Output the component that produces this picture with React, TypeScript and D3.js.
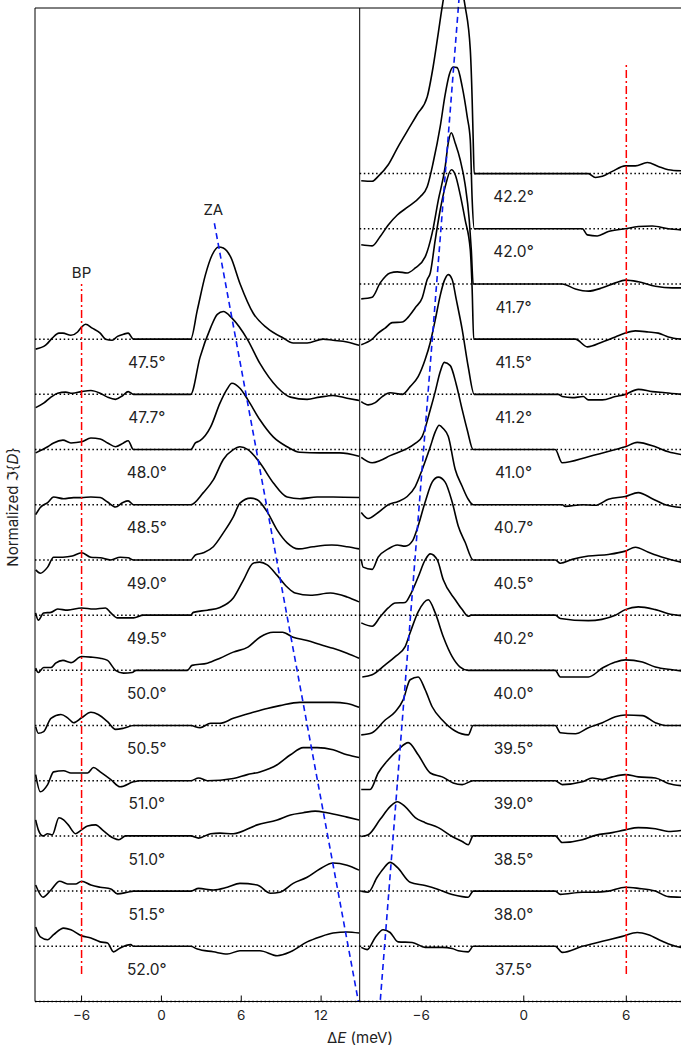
import React from "react";
import * as d3 from "d3";

type Pt = [number, number];

// angle labels, top to bottom
const leftAngles = ["47.5°", "47.7°", "48.0°", "48.5°", "49.0°", "49.5°", "50.0°", "50.5°", "51.0°", "51.0°", "51.5°", "52.0°"];
const rightAngles = ["42.2°", "42.0°", "41.7°", "41.5°", "41.2°", "41.0°", "40.7°", "40.5°", "40.2°", "40.0°", "39.5°", "39.0°", "38.5°", "38.0°", "37.5°"];

// left panel spectra: [dE (meV), normalized value]
const l475: Pt[] = [[-9.45,-0.18],[-8.7,-0.11],[-8.2,0.02],[-7.7,0.11],[-7.4,0.11],[-6.8,0.07],[-6.3,0.13],[-6.0,0.22],[-5.7,0.27],[-5.2,0.2],[-4.6,0.11],[-4.2,0],[-3.7,-0.02],[-3.3,0.05],[-2.85,0.09],[-2.5,0.11],[-2.1,0],[2.2,0],[2.7,0.53],[3.3,1.16],[3.8,1.52],[4.3,1.67],[4.65,1.65],[5.2,1.49],[5.9,1.01],[6.9,0.47],[7.95,0.2],[9.15,0.02],[9.9,-0.07],[10.95,-0.07],[12.15,0],[12.9,-0.02],[13.95,-0.05],[14.85,-0.11]];
const l477: Pt[] = [[-9.45,-0.24],[-8.85,-0.16],[-8.3,-0.05],[-7.8,0.02],[-7.2,0.04],[-6.7,0.02],[-6.0,0.05],[-5.3,0.07],[-4.6,0.02],[-4.05,-0.05],[-3.45,-0.09],[-2.9,-0.02],[-2.5,0.05],[-2.1,0],[2.2,0],[2.9,0.67],[3.7,1.21],[4.2,1.45],[4.65,1.5],[5.3,1.38],[6.45,1.0],[7.4,0.56],[8.7,0.13],[9.7,-0.05],[10.95,-0.09],[11.9,-0.05],[12.9,-0.02],[13.95,-0.07],[14.85,-0.11]];
const l480: Pt[] = [[-9.45,-0.06],[-8.55,0.05],[-8.1,0.12],[-7.4,0.17],[-6.8,0.12],[-6.0,0.14],[-5.3,0.21],[-4.6,0.19],[-4.05,0.12],[-3.45,0.05],[-2.85,0.12],[-2.5,0.16],[-2.1,0],[2.2,0],[2.55,0.12],[2.9,0.16],[3.7,0.41],[4.4,0.84],[4.9,1.08],[5.3,1.2],[5.9,1.11],[6.5,0.9],[7.4,0.54],[8.4,0.23],[9.45,0.05],[10.4,-0.05],[11.9,-0.06],[13.4,-0.06],[14.85,-0.12]];
const l485: Pt[] = [[-9.45,-0.18],[-9.1,-0.05],[-8.55,0.04],[-8.1,0.14],[-7.35,0.11],[-6.6,0.13],[-6.0,0.13],[-5.3,0.14],[-4.6,0.13],[-4.05,0.05],[-3.45,-0.04],[-2.9,0.04],[-2.5,0.07],[-2.1,0],[2.2,0],[3.15,0.22],[3.9,0.45],[4.65,0.82],[5.4,1.0],[5.9,1.05],[6.5,1.0],[7.4,0.76],[8.4,0.4],[9.45,0.14],[10.4,0.11],[11.7,0.14],[12.9,0.14],[14.85,0.13]];
const l490: Pt[] = [[-9.45,-0.18],[-9.1,-0.24],[-8.55,-0.13],[-8.1,0.05],[-7.4,0.05],[-6.7,0.07],[-6.0,0.13],[-5.3,0.05],[-4.6,0.04],[-3.8,0],[-3.1,0.05],[-2.5,0.04],[-2.1,0],[2.2,0],[2.55,0.09],[3.15,0.13],[3.9,0.24],[4.65,0.49],[5.4,0.78],[5.9,1.03],[6.7,1.12],[7.2,1.09],[7.95,0.87],[8.7,0.54],[9.45,0.31],[10.3,0.2],[11.4,0.24],[12.8,0.27],[13.95,0.24],[14.85,0.2]];
const l495: Pt[] = [[-9.45,0.04],[-9.25,-0.09],[-8.85,0.04],[-8.3,0.05],[-7.8,0.11],[-7.05,0.09],[-6.0,0.13],[-5.1,0.11],[-4.2,0.13],[-3.8,0.04],[-3.3,-0.05],[-2.1,-0.05],[-1.35,0],[2.2,0],[2.4,0.05],[3.45,0.09],[4.4,0.14],[5.4,0.31],[6.15,0.63],[6.9,0.94],[7.4,0.96],[7.95,0.91],[8.7,0.72],[9.45,0.51],[10.05,0.4],[11.2,0.36],[12.7,0.4],[13.95,0.33],[14.85,0.24]];
const l500: Pt[] = [[-9.45,0.04],[-9.25,-0.04],[-8.85,0.05],[-8.3,0.05],[-7.95,0.13],[-7.4,0.18],[-6.8,0.14],[-6.0,0.25],[-5.3,0.24],[-4.6,0.22],[-4.05,0.18],[-3.45,0],[-2.85,-0.05],[-2.2,-0.04],[-1.9,0],[1.95,0],[2.3,0.09],[3.45,0.13],[4.4,0.22],[5.4,0.33],[6.5,0.42],[7.4,0.6],[8.4,0.69],[9.1,0.69],[9.9,0.6],[10.95,0.54],[12.15,0.45],[12.9,0.4],[13.95,0.31],[14.85,0.22]];
const l505: Pt[] = [[-9.45,-0.02],[-9.25,-0.14],[-8.85,-0.11],[-8.3,0.13],[-7.55,0.2],[-7.05,0.14],[-6.6,0.05],[-6.0,0.14],[-5.3,0.24],[-4.75,0.2],[-4.05,0.07],[-3.45,-0.07],[-2.85,-0.05],[-2.1,0],[2.2,0],[2.9,-0.04],[3.7,0.04],[4.4,0.04],[5.4,0.13],[6.9,0.24],[7.95,0.31],[8.9,0.36],[10.4,0.42],[11.7,0.42],[12.9,0.42],[13.95,0.4],[14.85,0.33]];
const l510a: Pt[] = [[-9.45,0.11],[-9.1,-0.2],[-8.55,-0.07],[-8.1,0.16],[-7.35,0.18],[-6.8,0.14],[-6.0,0.14],[-5.55,0.14],[-5.1,0.24],[-4.6,0.16],[-3.8,0.02],[-3.1,-0.11],[-2.1,-0.02],[-1.6,0],[2.2,0],[2.8,0.05],[3.45,0],[5.4,0.04],[6.45,0.11],[7.4,0.16],[8.7,0.29],[9.7,0.47],[10.65,0.6],[11.7,0.6],[12.9,0.56],[13.95,0.47],[14.85,0.42]];
const l510b: Pt[] = [[-9.45,0.29],[-9.25,0.11],[-8.9,0],[-8.55,0.04],[-8.2,0.02],[-7.7,0.33],[-7.35,0.29],[-7.0,0.2],[-6.45,0.04],[-6.0,0.11],[-5.55,0.18],[-4.95,0.2],[-4.35,0.09],[-3.6,-0.04],[-3.2,-0.07],[-2.7,0],[2.2,0],[2.8,-0.04],[3.7,0.04],[4.4,0.05],[5.4,0.04],[7.2,0.2],[8.7,0.29],[9.7,0.38],[10.65,0.42],[11.55,0.45],[12.45,0.42],[13.95,0.34],[14.85,0.29]];
const l515: Pt[] = [[-9.45,0.11],[-8.9,-0.11],[-8.3,0.02],[-7.65,0.18],[-7.05,0.13],[-6.45,0.13],[-6.0,0.18],[-5.3,0.11],[-4.6,0.07],[-3.8,0.04],[-3.3,-0.05],[-2.55,-0.02],[-2.1,0],[2.2,0],[2.8,0.05],[3.9,0.02],[4.95,0.07],[5.9,0.14],[7.2,0.11],[8.2,-0.04],[8.9,-0.02],[9.9,0.14],[10.95,0.25],[11.9,0.4],[12.9,0.51],[13.95,0.47],[14.85,0.38]];
const l520: Pt[] = [[-9.45,0.35],[-9.1,0.17],[-8.55,0.12],[-8.1,0.21],[-7.35,0.33],[-6.8,0.3],[-6.0,0.19],[-5.3,0.15],[-4.6,0.08],[-4.05,0.06],[-3.6,-0.1],[-3.1,-0.03],[-2.3,0.03],[-2.1,0],[2.2,0],[2.7,-0.05],[3.9,-0.1],[4.95,-0.14],[5.9,-0.08],[7.4,-0.08],[8.7,-0.17],[9.7,-0.1],[10.95,0.08],[11.9,0.17],[12.9,0.24],[13.95,0.26],[14.85,0.24]];

// right panel spectra
const r422: Pt[] = [[-9.51,-0.13],[-8.87,-0.14],[-8.52,-0.05],[-7.93,0.16],[-7.35,0.49],[-6.76,0.8],[-6.24,1.07],[-5.65,1.39],[-5.3,1.94],[-5.0,2.55],[-4.77,3.03],[-4.42,3.6],[-4.01,3.8],[-3.66,3.4],[-3.43,3.03],[-3.13,2.25],[-3.02,1.34],[-2.96,0.62],[-2.9,0],[3.78,0],[4.19,-0.07],[4.6,-0.05],[5.18,0.04],[5.94,0.14],[6.53,0.14],[7.23,0.2],[7.87,0.13],[8.46,0.07],[9.22,0.05]];
const r420: Pt[] = [[-9.51,-0.29],[-8.87,-0.31],[-8.4,-0.14],[-7.93,0.07],[-7.4,0.25],[-6.76,0.4],[-6.06,0.58],[-5.65,0.76],[-5.3,1.2],[-4.89,1.85],[-4.6,2.43],[-4.36,2.79],[-4.13,2.93],[-3.9,2.92],[-3.6,2.57],[-3.31,2.03],[-3.13,1.61],[-3.02,0.53],[-2.9,0],[3.43,0],[3.72,-0.11],[4.3,-0.13],[4.95,-0.05],[5.94,0],[6.7,0.04],[7.52,0.05],[8.46,0],[9.22,-0.02]];
const r417: Pt[] = [[-9.51,-0.27],[-8.87,-0.24],[-8.4,0.02],[-7.82,0.2],[-7.4,0.22],[-6.82,0.2],[-6.35,0.29],[-5.77,0.49],[-5.36,0.92],[-5.0,1.52],[-4.6,2.12],[-4.42,2.55],[-4.24,2.74],[-4.01,2.55],[-3.72,2.25],[-3.43,1.8],[-3.19,1.16],[-3.07,0.62],[-2.96,0],[2.25,0],[3.02,-0.09],[3.78,-0.13],[4.6,-0.07],[5.36,0.02],[5.94,0.07],[6.7,0.04],[7.7,-0.04],[8.69,-0.07],[9.22,-0.07]];
const r415: Pt[] = [[-9.51,-0.1],[-8.87,0],[-8.52,0.11],[-8.11,0.2],[-7.7,0.3],[-7.11,0.31],[-6.76,0.4],[-6.35,0.57],[-5.94,0.75],[-5.65,1.08],[-5.47,1.2],[-5.18,1.8],[-4.89,2.34],[-4.6,2.76],[-4.24,3.07],[-4.01,2.98],[-3.72,2.62],[-3.43,2.16],[-3.13,1.62],[-3.02,0.9],[-2.93,0],[3.02,0],[3.72,-0.14],[4.6,-0.05],[5.36,0.04],[5.94,0.11],[6.53,0.15],[7.29,0.13],[7.87,0.11],[8.46,0.04],[9.22,0]];
const r412: Pt[] = [[-9.51,-0.13],[-9.1,-0.19],[-8.69,-0.15],[-8.28,-0.04],[-7.82,0.03],[-7.11,0],[-6.65,0.14],[-6.18,0.32],[-5.77,0.63],[-5.47,0.94],[-5.18,1.35],[-4.89,1.79],[-4.65,2.06],[-4.42,2.17],[-4.19,2.08],[-3.95,1.72],[-3.6,1.17],[-3.25,0.5],[-2.9,0],[2.02,0],[2.25,-0.04],[2.84,-0.06],[3.48,-0.04],[3.78,-0.1],[4.6,-0.1],[5.36,-0.04],[5.94,0],[6.7,0.09],[7.52,0.05],[8.28,0.03],[9.22,0]];
const r410: Pt[] = [[-9.51,-0.14],[-8.87,-0.24],[-8.4,-0.2],[-7.82,-0.11],[-6.94,0],[-6.35,0.11],[-5.94,0.24],[-5.47,0.72],[-5.18,1.05],[-4.89,1.41],[-4.65,1.58],[-4.3,1.52],[-3.95,1.18],[-3.6,0.72],[-3.31,0.36],[-2.96,0],[1.84,0],[2.25,-0.24],[3.78,-0.13],[5.36,0],[5.94,0.05],[6.64,0.13],[7.7,0.05],[8.46,-0.04],[9.22,-0.09]];
const r407: Pt[] = [[-9.51,-0.14],[-9.1,-0.25],[-8.52,-0.14],[-7.93,0],[-7.35,0.06],[-6.82,0.15],[-6.35,0.33],[-5.94,0.64],[-5.47,1.05],[-5.18,1.32],[-4.95,1.44],[-4.71,1.38],[-4.42,1.24],[-4.01,0.64],[-3.6,0.33],[-3.25,0.1],[-2.96,0],[2.25,0],[2.43,-0.03],[3.43,0],[4.19,-0.01],[4.95,0.1],[5.94,0.15],[6.7,0.22],[7.52,0.11],[8.28,0],[9.22,-0.05]];
const r405: Pt[] = [[-9.51,0.01],[-9.4,-0.13],[-8.87,-0.17],[-8.52,0.05],[-7.93,0.2],[-7.4,0.27],[-6.94,0.25],[-6.5,0.35],[-6.24,0.56],[-5.77,1.05],[-5.36,1.41],[-5.0,1.5],[-4.6,1.41],[-4.19,1.05],[-3.83,0.61],[-3.43,0.32],[-2.96,0],[1.84,0],[2.14,-0.06],[2.84,0.01],[3.78,0.07],[4.95,0.1],[5.94,0.16],[6.53,0.23],[7.29,0.14],[8.11,0.05],[9.22,-0.04]];
const r402: Pt[] = [[-9.51,-0.14],[-8.87,-0.2],[-8.4,-0.03],[-7.93,0.13],[-7.52,0.22],[-6.94,0.23],[-6.65,0.36],[-6.18,0.69],[-5.77,1.0],[-5.47,1.11],[-5.06,1.0],[-4.71,0.64],[-4.01,0.28],[-3.6,0.1],[-3.25,-0.02],[-3.07,0],[1.84,0],[2.14,-0.06],[3.78,-0.1],[5.36,0],[5.94,0.1],[6.7,0.15],[7.7,0.1],[8.69,0.01],[9.22,-0.01]];
const r400: Pt[] = [[-9.45,-0.12],[-8.87,-0.08],[-8.11,0.1],[-7.52,0.25],[-6.94,0.43],[-6.65,0.68],[-6.18,1.06],[-5.59,1.28],[-5.18,1.04],[-4.71,0.61],[-4.19,0.25],[-3.72,0.06],[-3.25,0],[1.84,0],[2.14,-0.12],[3.78,-0.12],[4.65,0.05],[5.36,0.15],[5.94,0.19],[6.94,0.15],[7.7,0.06],[8.69,0.01],[9.22,-0.01]];
const r395: Pt[] = [[-9.51,-0.17],[-8.87,-0.13],[-8.11,0.1],[-7.52,0.25],[-7.05,0.47],[-6.65,0.83],[-6.18,0.88],[-5.77,0.65],[-5.36,0.34],[-4.77,0.1],[-4.01,-0.1],[-3.25,-0.17],[-2.96,0],[1.84,0],[2.14,-0.13],[3.02,-0.15],[3.78,-0.04],[4.6,0.05],[5.36,0.16],[5.94,0.19],[6.94,0.18],[7.7,0.05],[8.28,0],[9.22,0]];
const r390: Pt[] = [[-9.51,-0.16],[-8.99,-0.16],[-8.52,0.14],[-7.93,0.38],[-7.35,0.56],[-6.76,0.69],[-6.18,0.47],[-5.47,0.14],[-4.77,0.07],[-4.13,-0.04],[-3.6,-0.07],[-2.96,0],[1.84,0],[2.25,-0.07],[3.43,-0.02],[4.01,0.05],[4.6,0.02],[5.18,0.07],[5.94,0.11],[6.7,0.07],[7.7,0.05],[8.46,-0.05],[9.22,-0.09]];
const r385: Pt[] = [[-9.51,-0.01],[-9.1,0.02],[-8.4,0.3],[-7.82,0.53],[-7.4,0.62],[-6.94,0.53],[-6.35,0.33],[-5.77,0.24],[-5.0,0.15],[-4.19,-0.01],[-3.6,-0.1],[-3.25,-0.16],[-2.96,0],[1.84,0],[2.25,-0.12],[3.43,-0.07],[4.19,0.01],[5.18,0.06],[5.94,0.11],[6.7,0.15],[7.7,0.13],[8.46,0.08],[9.22,0.1]];
const r380: Pt[] = [[-9.51,0],[-9.1,-0.02],[-8.58,0.25],[-8.23,0.4],[-7.82,0.52],[-7.4,0.43],[-6.65,0.16],[-5.77,0.1],[-5.0,0.03],[-4.19,-0.06],[-3.6,-0.1],[-3.25,-0.11],[-2.96,0],[1.84,0],[2.14,-0.06],[3.43,-0.02],[4.19,-0.02],[4.95,0],[5.94,0.07],[6.7,0.05],[7.7,0],[8.46,-0.1],[9.22,-0.11]];
const r375: Pt[] = [[-9.51,-0.02],[-9.16,-0.06],[-8.69,0.16],[-8.23,0.3],[-7.82,0.25],[-7.35,0.08],[-6.53,0.07],[-5.77,-0.02],[-4.77,-0.02],[-4.19,-0.04],[-3.83,-0.08],[-3.25,-0.1],[-2.96,0],[1.84,0],[2.25,-0.11],[3.43,0],[4.6,0.09],[5.77,0.18],[6.64,0.25],[7.29,0.21],[8.11,0.09],[8.87,0],[9.22,-0.02]];

const leftCurves = [l475, l477, l480, l485, l490, l495, l500, l505, l510a, l510b, l515, l520];
const rightCurves = [r422, r420, r417, r415, r412, r410, r407, r405, r402, r400, r395, r390, r385, r380, r375];

const leftTicks = [-6, 0, 6, 12];
const rightTicks = [-6, 0, 6];

// guide lines: BP (red dash-dot) and ZA (blue dashed)
const bpLeft: Pt[] = [[-6, -0.5], [-6, 12]];
const bpRight: Pt[] = [[6, -0.5], [6, 16]];
const zaLeft: Pt[] = [[3.98, 13.1], [14.8, -1]];
const zaRight: Pt[] = [[-3.78, 17.2], [-8.4, -1]];

const W = 681;
const H = 1047;
const font = "Inter, 'DejaVu Sans', sans-serif";

const xL = d3.scaleLinear().domain([-9.5, 14.9]).range([35, 359.7]);
const xR = d3.scaleLinear().domain([-9.6, 9.2]).range([359.7, 681]);
const y = d3.scaleLinear().domain([-1, 17]).range([1001.5, 8]);

const fmt = (v: number) => (v < 0 ? "\u2212" + Math.abs(v) : String(v));

function Panel({ xs, curves, angles, ticks, labelX }: any) {
  const n = curves.length;
  const [x0, x1] = xs.range();
  const offsets = d3.range(-1, n);
  return (
    <g>
      {offsets.map((o: number) => (
        <line key={"d" + o} x1={x0} x2={x1} y1={y(o)} y2={y(o)}
          stroke="#000" strokeWidth={1.5} strokeDasharray="1.5,2.6" />
      ))}
      {curves.map((c: Pt[], i: number) => {
        const off = n - 1 - i;
        const line = d3.line<Pt>()
          .x(d => xs(d[0]))
          .y(d => y(off + d[1]))
          .curve(d3.curveMonotoneX);
        return <path key={"c" + i} d={line(c) || ""} fill="none" stroke="#000" strokeWidth={1.6} strokeLinejoin="round" />;
      })}
      {angles.map((a: string, i: number) => {
        const off = n - 1 - i;
        return (
          <text key={"a" + i} x={xs(labelX)} y={y(off - 0.42)} textAnchor="middle"
            dominantBaseline="central" fontSize={15.5} fill="#222" fontFamily={font}>{a}</text>
        );
      })}
      {ticks.map((t: number) => (
        <g key={"t" + t}>
          <line x1={xs(t)} x2={xs(t)} y1={y(-1)} y2={y(-1) - 6} stroke="#000" strokeWidth={1} />
          <text x={xs(t)} y={1020} textAnchor="middle" fontSize={13.5} fill="#222" fontFamily={font}>{fmt(t)}</text>
        </g>
      ))}
    </g>
  );
}

export default function App() {
  const seg = (xs: any, p: Pt[]) => d3.line<Pt>().x(d => xs(d[0])).y(d => y(d[1]))(p) || "";
  return (
    <svg width={W} height={H} style={{ position: "absolute", left: 0, top: 0, background: "#fff" }}>
      <rect width={W} height={H} fill="#fff" />
      <Panel xs={xL} curves={leftCurves} angles={leftAngles} ticks={leftTicks} labelX={-1.1} />
      <Panel xs={xR} curves={rightCurves} angles={rightAngles} ticks={rightTicks} labelX={-0.6} />

      <path d={seg(xL, bpLeft)} stroke="#ff0000" strokeWidth={1.5} strokeDasharray="8,3,2,3" fill="none" />
      <path d={seg(xR, bpRight)} stroke="#ff0000" strokeWidth={1.5} strokeDasharray="8,3,2,3" fill="none" />
      <path d={seg(xL, zaLeft)} stroke="#0a1af0" strokeWidth={1.6} strokeDasharray="6,4" fill="none" />
      <path d={seg(xR, zaRight)} stroke="#0a1af0" strokeWidth={1.6} strokeDasharray="6,4" fill="none" />

      {/* frame */}
      <line x1={35} x2={35} y1={8} y2={1001.5} stroke="#000" strokeWidth={1} />
      <line x1={359.7} x2={359.7} y1={8} y2={1001.5} stroke="#000" strokeWidth={1} />
      <line x1={35} x2={W} y1={8} y2={8} stroke="#000" strokeWidth={1} />
      <line x1={35} x2={W} y1={1001.5} y2={1001.5} stroke="#000" strokeWidth={1} />

      <text x={xL(-6)} y={y(12.2)} textAnchor="middle" dominantBaseline="central" fontSize={15} fill="#222" fontFamily={font}>BP</text>
      <text x={xL(3.9)} y={y(13.35)} textAnchor="middle" dominantBaseline="central" fontSize={15} fill="#222" fontFamily={font}>ZA</text>

      <text x={360} y={1043} textAnchor="middle" fontSize={15} fill="#222" fontFamily={font}>
        Δ<tspan fontStyle="italic">E</tspan> (meV)
      </text>
      <text transform="translate(18,507) rotate(-90)" textAnchor="middle" fontSize={15} fill="#222" fontFamily={font}>
        Normalized ℑ{"{"}<tspan fontStyle="italic">D</tspan>{"}"}
      </text>
    </svg>
  );
}
